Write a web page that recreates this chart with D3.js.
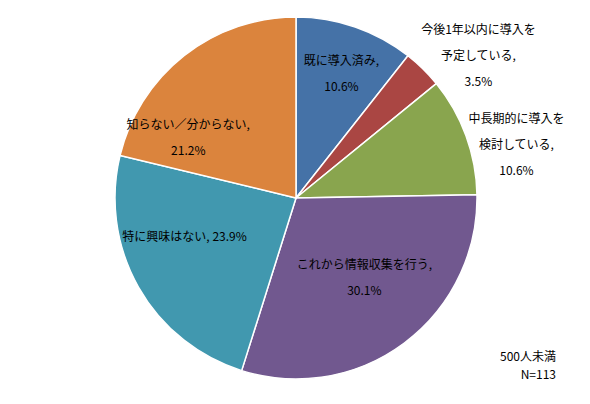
<!DOCTYPE html>
<html><head><meta charset="utf-8">
<script src="https://cdn.jsdelivr.net/npm/d3@7"></script>
<style>body{margin:0;background:#fff}text{font-family:"Noto Sans CJK JP",sans-serif;font-size:12px;fill:#000}</style>
</head><body>
<svg width="590" height="404"></svg>
<script>
var categories = ["既に導入済み", "今後1年以内に導入を予定している", "中長期的に導入を検討している",
	"これから情報収集を行う", "特に興味はない", "知らない／分からない"];
var values = [10.6, 3.5, 10.6, 30.1, 23.9, 21.2];
var colors = ["#4572A7", "#AA4643", "#89A54E", "#71588F", "#4198AF", "#DB843D"];
// label lines per slice, and where each sits relative to the slice centroid
var labelLines = [["既に導入済み,", "10.6%"], ["今後1年以内に導入を", "予定している,", "3.5%"],
	["中長期的に導入を", "検討している,", "10.6%"], ["これから情報収集を行う,", "30.1%"],
	["特に興味はない, 23.9%"], ["知らない／分からない,", "21.2%"]];
var labelOffset = [[7, -12], [100, -57], [110, -12], [-2, -14], [-9, -18], [-35, 33]];

var svg = d3.select("svg"),
	cx = 296, cy = 198, r = 181;

var pie = d3.pie().sort(null).value(function(d) { return d; });
var arc = d3.arc().innerRadius(0).outerRadius(r);
var labelArc = d3.arc().innerRadius(r * 0.65).outerRadius(r * 0.65);
var arcs = pie(values);

var g = svg.append("g").attr("transform", "translate(" + cx + "," + cy + ")");

g.selectAll("path").data(arcs).enter().append("path")
	.attr("d", arc)
	.attr("fill", function(d, i) { return colors[i]; })
	.attr("stroke", "#fff")
	.attr("stroke-width", 1.5);

g.selectAll("g.lbl").data(arcs).enter().append("g")
	.attr("class", "lbl")
	.each(function(d, i) {
		var c = labelArc.centroid(d),
			lines = labelLines[i],
			x = c[0] + labelOffset[i][0],
			y = c[1] + labelOffset[i][1] - (lines.length - 1) * 13;
		lines.forEach(function(t, k) {
			d3.select(this).append("text")
				.attr("x", x).attr("y", y + k * 26)
				.attr("text-anchor", "middle")
				.attr("dominant-baseline", "middle")
				.text(t);
		}, this);
	});

svg.append("text").attr("x", 556).attr("y", 361).attr("text-anchor", "end").text("500人未満");
svg.append("text").attr("x", 556).attr("y", 379).attr("text-anchor", "end").text("N=113");
</script>
</body></html>
